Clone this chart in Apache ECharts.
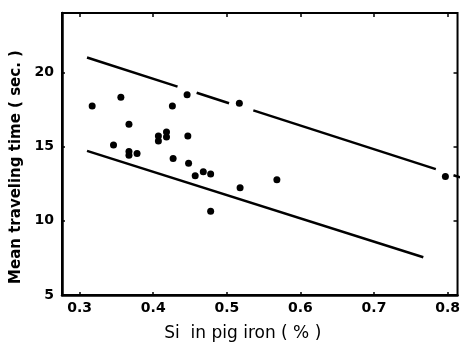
<!DOCTYPE html>
<html>
<head>
<meta charset="utf-8">
<script src="https://cdn.jsdelivr.net/npm/echarts@6/dist/echarts.min.js"></script>
<style>
  html, body { margin: 0; padding: 0; background: #fff; }
  #chart { width: 463px; height: 347px; }
</style>
</head>
<body>
<div id="chart"></div>
<script>
// Si content (%) and mean traveling time (sec.)
const siPct = [0.317, 0.356, 0.367, 0.346, 0.367, 0.367, 0.378, 0.407, 0.407, 0.418, 0.418,
  0.426, 0.427, 0.446, 0.447, 0.448, 0.457, 0.468, 0.478, 0.478, 0.517, 0.518, 0.568, 0.797];
const travelTime = [17.73, 18.32, 16.5, 15.1, 14.67, 14.42, 14.53, 15.72, 15.38, 15.99, 15.65,
  17.73, 14.2, 18.5, 15.72, 13.88, 13.03, 13.3, 13.16, 10.65, 17.92, 12.22, 12.76, 12.99];

// upper bound line is broken where it passes the points
const upperSegments = [
  [[0.31, 21.0], [0.433, 19.04]],
  [[0.459, 18.63], [0.503, 17.92]],
  [[0.536, 17.44], [0.784, 13.48]],
  [[0.808, 13.07], [0.82, 12.88]]
];
const lowerLine = [[0.31, 14.71], [0.767, 7.54]];

const xTicks = [0.3, 0.4, 0.5, 0.6, 0.7, 0.8];
const yTicks = [5, 10, 15, 20];

const chart = echarts.init(document.getElementById('chart'));

const lineSeries = (pts) => ({
  type: 'line',
  data: pts,
  showSymbol: false,
  silent: true,
  lineStyle: { color: '#000', width: 2.5 },
  animation: false
});

const font = '"DejaVu Sans", sans-serif';

const option = {
  backgroundColor: '#fff',
  animation: false,
  grid: {
    left: 62, right: 2, top: 13, bottom: 51,
    show: true, borderColor: '#000', borderWidth: 2
  },
  xAxis: [
    {
      type: 'value', min: 0.276, max: 0.8135,
      name: 'Si  in pig iron ( % )',
      nameLocation: 'middle', nameGap: 30,
      nameTextStyle: { color: '#000', fontSize: 17, fontFamily: font, padding: [0, 34, 0, 0] },
      axisLine: { show: true, lineStyle: { color: '#000', width: 2.5 } },
      axisTick: { show: true, inside: true, length: 3, customValues: xTicks, lineStyle: { color: '#000', width: 1.5 } },
      axisLabel: {
        customValues: xTicks, color: '#000', fontSize: 14, fontWeight: 'bold', fontFamily: font,
        margin: 6, formatter: (v) => v.toFixed(1)
      },
      splitLine: { show: false }
    },
    {
      type: 'value', position: 'top', min: 0.276, max: 0.8135,
      axisLine: { show: false },
      axisTick: { show: true, inside: true, length: 4, customValues: xTicks, lineStyle: { color: '#000', width: 1.5 } },
      axisLabel: { show: false },
      splitLine: { show: false }
    }
  ],
  yAxis: [
    {
      type: 'value', min: 5, max: 24, interval: 5,
      name: 'Mean traveling time ( sec. )',
      nameLocation: 'middle', nameGap: 38, nameRotate: 90,
      nameTextStyle: { color: '#000', fontSize: 15, fontWeight: 'bold', fontFamily: font, padding: [0, 26, 0, 0] },
      axisLine: { show: true, lineStyle: { color: '#000', width: 2.5 } },
      axisTick: { show: true, inside: true, length: 3, customValues: yTicks, lineStyle: { color: '#000', width: 1.5 } },
      axisLabel: { customValues: yTicks, color: '#000', fontSize: 14, fontWeight: 'bold', fontFamily: font, margin: 8 },
      splitLine: { show: false }
    },
    {
      type: 'value', position: 'right', min: 5, max: 24, interval: 5,
      axisLine: { show: false },
      axisTick: { show: true, inside: true, length: 4, customValues: yTicks, lineStyle: { color: '#000', width: 1.5 } },
      axisLabel: { show: false },
      splitLine: { show: false }
    }
  ],
  series: [
    ...upperSegments.map(lineSeries),
    lineSeries(lowerLine),
    {
      type: 'scatter',
      data: siPct.map((x, i) => [x, travelTime[i]]),
      symbol: 'circle',
      symbolSize: 7,
      itemStyle: { color: '#000', opacity: 1 },
      animation: false
    }
  ]
};

chart.setOption(option);
</script>
</body>
</html>
